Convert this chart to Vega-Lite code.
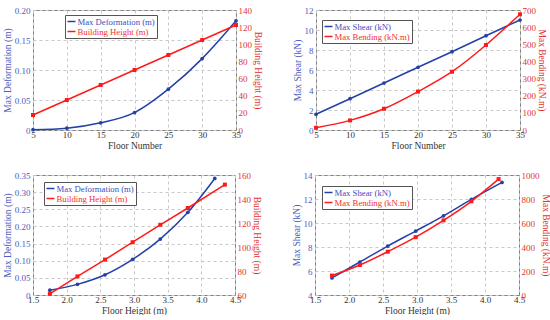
{
  "$schema": "https://vega.github.io/schema/vega-lite/v6.json",
  "padding": {"left": 1, "top": 5, "right": 0, "bottom": 0},
  "background": "white",
  "resolve": {"scale": {"color": "independent"}, "legend": {"color": "independent"}},
  "datasets": {
    "p1": [
      {"x": 5, "s": "Max Deformation (m)", "v": 0.0005},
      {"x": 10, "s": "Max Deformation (m)", "v": 0.003},
      {"x": 15, "s": "Max Deformation (m)", "v": 0.012},
      {"x": 20, "s": "Max Deformation (m)", "v": 0.029},
      {"x": 25, "s": "Max Deformation (m)", "v": 0.068},
      {"x": 30, "s": "Max Deformation (m)", "v": 0.119},
      {"x": 35, "s": "Max Deformation (m)", "v": 0.182},
      {"x": 5, "s": "Building Height (m)", "v": 17.5},
      {"x": 10, "s": "Building Height (m)", "v": 35},
      {"x": 15, "s": "Building Height (m)", "v": 52.5},
      {"x": 20, "s": "Building Height (m)", "v": 70},
      {"x": 25, "s": "Building Height (m)", "v": 87.5},
      {"x": 30, "s": "Building Height (m)", "v": 105},
      {"x": 35, "s": "Building Height (m)", "v": 122.5}
    ],
    "p2": [
      {"x": 5, "s": "Max Shear (kN)", "v": 1.57},
      {"x": 10, "s": "Max Shear (kN)", "v": 3.13},
      {"x": 15, "s": "Max Shear (kN)", "v": 4.7},
      {"x": 20, "s": "Max Shear (kN)", "v": 6.27},
      {"x": 25, "s": "Max Shear (kN)", "v": 7.83},
      {"x": 30, "s": "Max Shear (kN)", "v": 9.43},
      {"x": 35, "s": "Max Shear (kN)", "v": 11.0},
      {"x": 5, "s": "Max Bending (kN.m)", "v": 13},
      {"x": 10, "s": "Max Bending (kN.m)", "v": 56},
      {"x": 15, "s": "Max Bending (kN.m)", "v": 124},
      {"x": 20, "s": "Max Bending (kN.m)", "v": 224},
      {"x": 25, "s": "Max Bending (kN.m)", "v": 340},
      {"x": 30, "s": "Max Bending (kN.m)", "v": 496},
      {"x": 35, "s": "Max Bending (kN.m)", "v": 675}
    ],
    "p3": [
      {"x": 1.75, "s": "Max Deformation (m)", "v": 0.014},
      {"x": 2.16, "s": "Max Deformation (m)", "v": 0.031},
      {"x": 2.57, "s": "Max Deformation (m)", "v": 0.059},
      {"x": 2.98, "s": "Max Deformation (m)", "v": 0.104},
      {"x": 3.39, "s": "Max Deformation (m)", "v": 0.163},
      {"x": 3.8, "s": "Max Deformation (m)", "v": 0.241},
      {"x": 4.2, "s": "Max Deformation (m)", "v": 0.34},
      {"x": 1.75, "s": "Building Height (m)", "v": 61},
      {"x": 2.16, "s": "Building Height (m)", "v": 75.5},
      {"x": 2.57, "s": "Building Height (m)", "v": 89.5},
      {"x": 2.98, "s": "Building Height (m)", "v": 104},
      {"x": 3.39, "s": "Building Height (m)", "v": 118.5},
      {"x": 3.8, "s": "Building Height (m)", "v": 132.5},
      {"x": 4.35, "s": "Building Height (m)", "v": 152}
    ],
    "p4": [
      {"x": 1.75, "s": "Max Shear (kN)", "v": 5.42},
      {"x": 2.16, "s": "Max Shear (kN)", "v": 6.75},
      {"x": 2.57, "s": "Max Shear (kN)", "v": 8.08},
      {"x": 2.98, "s": "Max Shear (kN)", "v": 9.33},
      {"x": 3.39, "s": "Max Shear (kN)", "v": 10.6},
      {"x": 3.8, "s": "Max Shear (kN)", "v": 11.97},
      {"x": 4.25, "s": "Max Shear (kN)", "v": 13.38},
      {"x": 1.75, "s": "Max Bending (kN.m)", "v": 162},
      {"x": 2.16, "s": "Max Bending (kN.m)", "v": 250},
      {"x": 2.57, "s": "Max Bending (kN.m)", "v": 361},
      {"x": 2.98, "s": "Max Bending (kN.m)", "v": 482},
      {"x": 3.39, "s": "Max Bending (kN.m)", "v": 622},
      {"x": 3.8, "s": "Max Bending (kN.m)", "v": 781},
      {"x": 4.2, "s": "Max Bending (kN.m)", "v": 966}
    ]
  },
  "config": {
    "font": "'Liberation Serif', 'DejaVu Serif', serif",
    "view": {"stroke": "#808080", "strokeWidth": 1},
    "axis": {
      "labelFont": "'Liberation Serif', 'DejaVu Serif', serif",
      "titleFont": "'Liberation Serif', 'DejaVu Serif', serif",
      "labelFontSize": 9,
      "titleFontSize": 9.5,
      "titleFontWeight": "normal",
      "ticks": false,
      "domain": false,
      "gridDash": [3, 3],
      "gridColor": "#c8c8c8",
      "labelPadding": 3,
      "titlePadding": 2,
      "labelOverlap": false
    },
    "axisRight": {"labelPadding": 2, "titlePadding": 1},
    "axisX": {"labelFlush": false, "labelPadding": 0, "titlePadding": 1, "labelColor": "#333", "titleColor": "#333"},
    "legend": {
      "labelFont": "'Liberation Serif', 'DejaVu Serif', serif",
      "labelFontSize": 8.7,
      "symbolType": "stroke",
      "symbolSize": 64,
      "symbolStrokeWidth": 1.5,
      "fillColor": "white",
      "strokeColor": "#555",
      "padding": 1.5,
      "rowPadding": -2,
      "labelOffset": 1,
      "title": null
    }
  },
  "vconcat": [
    {
      "resolve": {"scale": {"color": "independent"}, "legend": {"color": "independent"}},
      "hconcat": [
        {
          "width": 203, "height": 120,
          "data": {"name": "p1"},
          "encoding": {"x": {"field": "x", "type": "quantitative", "scale": {"domain": [5, 35], "nice": false},
            "axis": {"values": [5, 10, 15, 20, 25, 30, 35], "title": "Floor Number", "grid": true}}},
          "layer": [
            {
              "transform": [{"filter": "datum.s === 'Max Deformation (m)'"}],
              "encoding": {
                "y": {"field": "v", "type": "quantitative", "scale": {"domain": [0, 0.2], "nice": false},
                  "axis": {"orient": "left", "values": [0, 0.05, 0.1, 0.15, 0.2], "labelExpr": "datum.value == 0 ? '0' : format(datum.value, '.2f')", "title": "Max Deformation (m)", "labelColor": "#4a5cc0", "titleColor": "#4a5cc0", "grid": true}},
                "color": {"field": "s", "type": "nominal", "scale": {"domain": ["Max Deformation (m)", "Building Height (m)"], "range": ["#2340a8", "#ff1a1a"]},
                  "legend": {"orient": "none", "legendX": 32, "legendY": 5, "encode": {"labels": {"update": {"fill": {"signal": "datum.index === 0 ? '#3a50c0' : '#f03030'"}}}}}}
              },
              "layer": [
                {"mark": {"type": "line", "interpolate": "monotone", "strokeWidth": 1.5}},
                {"mark": {"type": "point", "shape": "circle", "filled": true, "size": 14, "opacity": 1}}
              ]
            },
            {
              "transform": [{"filter": "datum.s === 'Building Height (m)'"}],
              "encoding": {
                "y": {"field": "v", "type": "quantitative", "scale": {"domain": [0, 140], "nice": false},
                  "axis": {"orient": "right", "values": [0, 20, 40, 60, 80, 100, 120, 140], "title": "Building Height (m)", "labelColor": "#e03434", "titleColor": "#e03434", "grid": false}},
                "color": {"field": "s", "type": "nominal"}
              },
              "layer": [
                {"mark": {"type": "line", "strokeWidth": 1.5}},
                {"mark": {"type": "point", "shape": "square", "filled": true, "size": 16, "opacity": 1}}
              ]
            }
          ],
          "resolve": {"scale": {"y": "independent"}}
        },
        {
          "width": 204, "height": 120,
          "data": {"name": "p2"},
          "encoding": {"x": {"field": "x", "type": "quantitative", "scale": {"domain": [5, 35], "nice": false},
            "axis": {"values": [5, 10, 15, 20, 25, 30, 35], "title": "Floor Number", "grid": true}}},
          "layer": [
            {
              "transform": [{"filter": "datum.s === 'Max Shear (kN)'"}],
              "encoding": {
                "y": {"field": "v", "type": "quantitative", "scale": {"domain": [0, 12], "nice": false},
                  "axis": {"orient": "left", "values": [0, 2, 4, 6, 8, 10, 12], "title": "Max Shear (kN)", "labelColor": "#4a5cc0", "titleColor": "#4a5cc0", "grid": true}},
                "color": {"field": "s", "type": "nominal", "scale": {"domain": ["Max Shear (kN)", "Max Bending (kN.m)"], "range": ["#2340a8", "#ff1a1a"]},
                  "legend": {"orient": "none", "legendX": 6, "legendY": 10, "encode": {"labels": {"update": {"fill": {"signal": "datum.index === 0 ? '#3a50c0' : '#f03030'"}}}}}}
              },
              "layer": [
                {"mark": {"type": "line", "strokeWidth": 1.5}},
                {"mark": {"type": "point", "shape": "circle", "filled": true, "size": 14, "opacity": 1}}
              ]
            },
            {
              "transform": [{"filter": "datum.s === 'Max Bending (kN.m)'"}],
              "encoding": {
                "y": {"field": "v", "type": "quantitative", "scale": {"domain": [0, 700], "nice": false},
                  "axis": {"orient": "right", "values": [0, 100, 200, 300, 400, 500, 600, 700], "format": "d", "title": "Max Bending (kN.m)", "labelColor": "#e03434", "titleColor": "#e03434", "grid": false}},
                "color": {"field": "s", "type": "nominal"}
              },
              "layer": [
                {"mark": {"type": "line", "interpolate": "monotone", "strokeWidth": 1.5}},
                {"mark": {"type": "point", "shape": "square", "filled": true, "size": 16, "opacity": 1}}
              ]
            }
          ],
          "resolve": {"scale": {"y": "independent"}}
        }
      ],
      "spacing": 28
    },
    {
      "resolve": {"scale": {"color": "independent"}, "legend": {"color": "independent"}},
      "hconcat": [
        {
          "width": 202, "height": 120,
          "data": {"name": "p3"},
          "encoding": {"x": {"field": "x", "type": "quantitative", "scale": {"domain": [1.5, 4.5], "nice": false},
            "axis": {"values": [1.5, 2, 2.5, 3, 3.5, 4, 4.5], "format": ".1f", "title": "Floor Height (m)", "grid": true}}},
          "layer": [
            {
              "transform": [{"filter": "datum.s === 'Max Deformation (m)'"}],
              "encoding": {
                "y": {"field": "v", "type": "quantitative", "scale": {"domain": [0, 0.35], "nice": false},
                  "axis": {"orient": "left", "values": [0, 0.05, 0.1, 0.15, 0.2, 0.25, 0.3, 0.35], "labelExpr": "datum.value == 0 ? '0' : format(datum.value, '.2f')", "title": "Max Deformation (m)", "labelColor": "#4a5cc0", "titleColor": "#4a5cc0", "grid": true}},
                "color": {"field": "s", "type": "nominal", "scale": {"domain": ["Max Deformation (m)", "Building Height (m)"], "range": ["#2340a8", "#ff1a1a"]},
                  "legend": {"orient": "none", "legendX": 11, "legendY": 7, "encode": {"labels": {"update": {"fill": {"signal": "datum.index === 0 ? '#3a50c0' : '#f03030'"}}}}}}
              },
              "layer": [
                {"mark": {"type": "line", "interpolate": "monotone", "strokeWidth": 1.5}},
                {"mark": {"type": "point", "shape": "circle", "filled": true, "size": 14, "opacity": 1}}
              ]
            },
            {
              "transform": [{"filter": "datum.s === 'Building Height (m)'"}],
              "encoding": {
                "y": {"field": "v", "type": "quantitative", "scale": {"domain": [60, 160], "nice": false, "zero": false},
                  "axis": {"orient": "right", "values": [60, 80, 100, 120, 140, 160], "title": "Building Height (m)", "labelColor": "#e03434", "titleColor": "#e03434", "grid": false}},
                "color": {"field": "s", "type": "nominal"}
              },
              "layer": [
                {"mark": {"type": "line", "strokeWidth": 1.5}},
                {"mark": {"type": "point", "shape": "square", "filled": true, "size": 16, "opacity": 1}}
              ]
            }
          ],
          "resolve": {"scale": {"y": "independent"}}
        },
        {
          "width": 204, "height": 120,
          "data": {"name": "p4"},
          "encoding": {"x": {"field": "x", "type": "quantitative", "scale": {"domain": [1.5, 4.5], "nice": false},
            "axis": {"values": [1.5, 2, 2.5, 3, 3.5, 4, 4.5], "format": ".1f", "title": "Floor Height (m)", "grid": true}}},
          "layer": [
            {
              "transform": [{"filter": "datum.s === 'Max Shear (kN)'"}],
              "encoding": {
                "y": {"field": "v", "type": "quantitative", "scale": {"domain": [4, 14], "nice": false, "zero": false},
                  "axis": {"orient": "left", "values": [4, 6, 8, 10, 12, 14], "title": "Max Shear (kN)", "labelColor": "#4a5cc0", "titleColor": "#4a5cc0", "grid": true}},
                "color": {"field": "s", "type": "nominal", "scale": {"domain": ["Max Shear (kN)", "Max Bending (kN.m)"], "range": ["#2340a8", "#ff1a1a"]},
                  "legend": {"orient": "none", "legendX": 7, "legendY": 11, "encode": {"labels": {"update": {"fill": {"signal": "datum.index === 0 ? '#3a50c0' : '#f03030'"}}}}}}
              },
              "layer": [
                {"mark": {"type": "line", "interpolate": "monotone", "strokeWidth": 1.5}},
                {"mark": {"type": "point", "shape": "circle", "filled": true, "size": 14, "opacity": 1}}
              ]
            },
            {
              "transform": [{"filter": "datum.s === 'Max Bending (kN.m)'"}],
              "encoding": {
                "y": {"field": "v", "type": "quantitative", "scale": {"domain": [0, 1000], "nice": false},
                  "axis": {"orient": "right", "values": [0, 200, 400, 600, 800, 1000], "format": "d", "title": "Max Bending (kN.m)", "labelColor": "#e03434", "titleColor": "#e03434", "grid": false}},
                "color": {"field": "s", "type": "nominal"}
              },
              "layer": [
                {"mark": {"type": "line", "interpolate": "monotone", "strokeWidth": 1.5}},
                {"mark": {"type": "point", "shape": "square", "filled": true, "size": 16, "opacity": 1}}
              ]
            }
          ],
          "resolve": {"scale": {"y": "independent"}}
        }
      ],
      "spacing": 28
    }
  ],
  "spacing": 20
}
